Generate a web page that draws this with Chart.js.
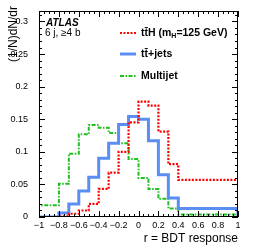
<!DOCTYPE html>
<html lang="en">
<head>
<meta charset="UTF-8">
<title>BDT response</title>
<script src="https://cdn.jsdelivr.net/npm/chart.js"></script>
<style>
  body { margin: 0; background: #fff; }
  canvas { display: block; }
</style>
</head>
<body>
<canvas id="bdt" width="258" height="247"></canvas>
<script>
// lower edges of the 20 bins, last bin closes at r = 1
const binLow = [-1, -0.9, -0.8, -0.7, -0.6, -0.5, -0.4, -0.3, -0.2, -0.1,
                0, 0.1, 0.2, 0.3, 0.4, 0.5, 0.6, 0.7, 0.8, 0.9];
const binHigh = 1;

// (1/N) dN/dr
const ttH      = [0, 0, 0, 0.001, 0.005, 0.010, 0.020, 0.043, 0.068, 0.100,
                  0.145, 0.177, 0.171, 0.131, 0.081, 0.057, 0.057, 0.057, 0.057, 0.057];
const ttJets   = [0, 0, 0, 0.006, 0.020, 0.040, 0.061, 0.090, 0.113, 0.142,
                  0.154, 0.150, 0.117, 0.065, 0.029, 0.013, 0.013, 0.013, 0.013, 0.013];
const multijet = [0.018, 0.018, 0.018, 0.051, 0.097, 0.127, 0.141, 0.137, 0.129, 0.113,
                  0.089, 0.060, 0.043, 0.028, 0.013, 0.004, 0.004, 0.004, 0.004, 0.004];

const seriesNames = ['tt\u0304H (m', 'tt\u0304+jets', 'Multijet'];

const FONT = "'Liberation Sans', Arial, Helvetica, sans-serif";
const TICKFONT = "'Liberation Sans Narrow', 'Liberation Sans', Arial, sans-serif";

// histogram outline: steps from each lower edge, closed down to 0 at both ends
function histPoints(vals) {
  const pts = [{ x: binLow[0], y: 0 }];
  vals.forEach((v, i) => pts.push({ x: binLow[i], y: v }));
  pts.push({ x: binHigh, y: vals[vals.length - 1] });
  pts.push({ x: binHigh, y: 0 });
  return pts;
}

function fmt(v, d) {
  const s = String(Number(v.toFixed(d)));
  return s.replace('-', '\u2212');
}

// ROOT style frame, inner ticks on all sides, and the text labels
const atlasDeco = {
  id: 'atlasDeco',
  afterDraw(chart) {
    const { ctx, chartArea: a, scales } = chart;
    const xs = scales.x, ys = scales.y;
    ctx.save();
    ctx.strokeStyle = '#000';
    ctx.lineWidth = 1;
    ctx.strokeRect(a.left + 0.5, a.top + 0.5, a.right - a.left - 1, a.bottom - a.top - 1);

    ctx.beginPath();
    for (let i = 0; i <= 40; i++) {
      const v = -1 + i * 0.05;
      const px = Math.round(xs.getPixelForValue(v)) + 0.5;
      const len = (i % 4 === 0) ? 6 : 3;
      ctx.moveTo(px, a.bottom); ctx.lineTo(px, a.bottom - len);
      ctx.moveTo(px, a.top); ctx.lineTo(px, a.top + len);
    }
    for (let i = 0; i <= 31; i++) {
      const v = i * 0.01;
      const py = Math.round(ys.getPixelForValue(v)) + 0.5;
      const len = (i % 5 === 0) ? 6 : 3;
      ctx.moveTo(a.left, py); ctx.lineTo(a.left + len, py);
      ctx.moveTo(a.right, py); ctx.lineTo(a.right - len, py);
    }
    ctx.stroke();

    ctx.fillStyle = '#000';
    // axis titles
    ctx.font = '12px ' + FONT;
    ctx.textAlign = 'right';
    ctx.textBaseline = 'alphabetic';
    ctx.fillText('r = BDT response', a.right, 242);
    ctx.save();
    ctx.translate(17, 6);
    ctx.rotate(-Math.PI / 2);
    ctx.fillText('(1/N)dN/dr', 0, 0);
    ctx.restore();

    // ATLAS label
    ctx.textAlign = 'left';
    ctx.font = 'italic bold 10px ' + FONT;
    ctx.fillText('ATLAS', 46, 26);
    ctx.font = '10px ' + FONT;
    ctx.fillText('6 j, \u22654 b', 45, 35.5);

    // legend
    const rows = [33, 54, 76];
    chart.data.datasets.forEach((ds, i) => {
      const y = rows[i];
      ctx.save();
      ctx.strokeStyle = ds.borderColor;
      ctx.lineWidth = ds.borderWidth;
      ctx.setLineDash(ds.borderDash || []);
      ctx.beginPath();
      ctx.moveTo(120, y); ctx.lineTo(136, y);
      ctx.stroke();
      ctx.restore();
      ctx.font = 'bold 10.5px ' + FONT;
      ctx.textBaseline = 'middle';
      ctx.fillText(seriesNames[i], 141, y);
      if (i === 0) {
        let x = 141 + ctx.measureText(seriesNames[0]).width;
        ctx.font = 'bold 7px ' + FONT;
        ctx.fillText('H', x, y + 3);
        x += ctx.measureText('H').width;
        ctx.font = 'bold 10.5px ' + FONT;
        ctx.fillText('=125 GeV)', x, y);
      }
    });
    ctx.restore();
  }
};

new Chart(document.getElementById('bdt'), {
  type: 'line',
  data: {
    datasets: [{
      label: 'ttH',
      data: histPoints(ttH),
      borderColor: '#ff0000',
      borderWidth: 2.2,
      borderDash: [2, 1.5],
      stepped: 'after',
      pointRadius: 0,
      fill: false
    }, {
      label: 'tt+jets',
      data: histPoints(ttJets),
      borderColor: '#5b8ef2',
      borderWidth: 3,
      stepped: 'after',
      pointRadius: 0,
      fill: false
    }, {
      label: 'Multijet',
      data: histPoints(multijet),
      borderColor: '#1fbf1f',
      borderWidth: 2,
      borderDash: [4, 1.5, 1.5, 1.5],
      stepped: 'after',
      pointRadius: 0,
      fill: false
    }]
  },
  options: {
    responsive: false,
    animation: false,
    devicePixelRatio: 1,
    layout: { padding: { left: 0, top: 11, right: 20, bottom: 0 } },
    plugins: { legend: { display: false }, tooltip: { enabled: false } },
    scales: {
      x: {
        type: 'linear',
        min: -1,
        max: 1,
        grid: { display: false },
        border: { display: false },
        afterFit: s => { s.height = 30; },
        ticks: {
          stepSize: 0.2,
          autoSkip: false,
          maxRotation: 0,
          padding: -5,
          color: '#000',
          font: { family: TICKFONT, size: 9 },
          callback: v => fmt(v, 1)
        }
      },
      y: {
        min: 0,
        max: 0.316,
        grid: { display: false },
        border: { display: false },
        afterFit: s => { s.width = 39; },
        ticks: {
          stepSize: 0.05,
          includeBounds: false,
          padding: 3,
          color: '#000',
          font: { family: TICKFONT, size: 9 },
          callback: v => fmt(v, 2)
        }
      }
    }
  },
  plugins: [atlasDeco]
});
</script>
</body>
</html>
